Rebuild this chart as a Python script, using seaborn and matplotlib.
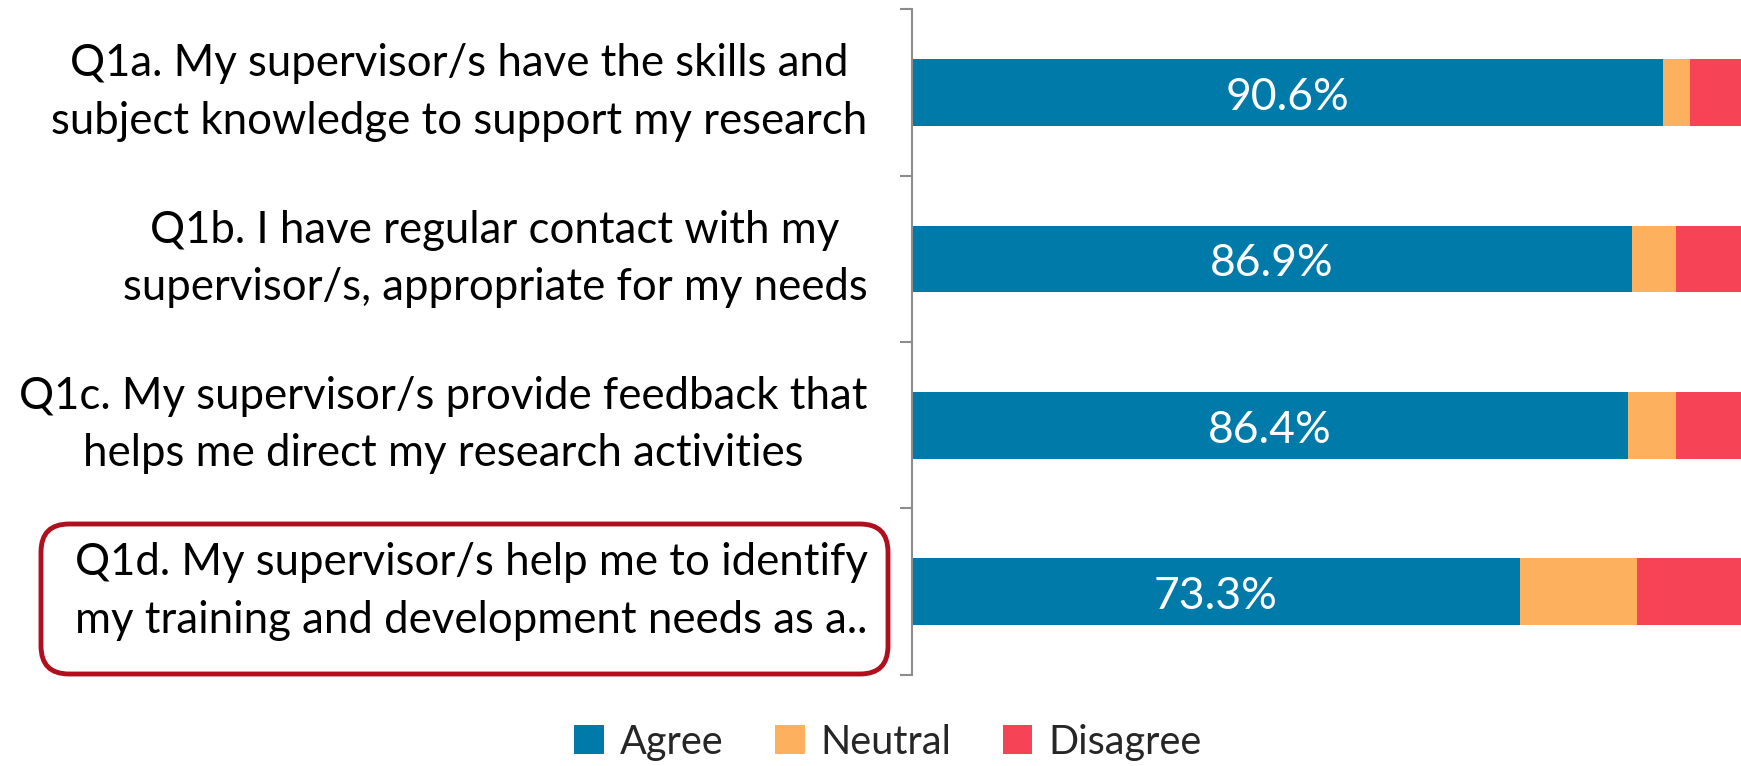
import matplotlib
matplotlib.use("Agg")
import matplotlib.pyplot as plt
from matplotlib.patches import FancyBboxPatch, Patch
from matplotlib.transforms import IdentityTransform
import seaborn as sns
import pandas as pd
import numpy as np

questions = [
    "Q1a. My supervisor/s have the skills and\nsubject knowledge to support my research",
    "Q1b. I have regular contact with my\nsupervisor/s, appropriate for my needs",
    "Q1c. My supervisor/s provide feedback that\nhelps me direct my research activities",
    "Q1d. My supervisor/s help me to identify\nmy training and development needs as a..",
]
agree = [90.6, 86.9, 86.4, 73.3]
neutral = [3.3, 5.2, 5.8, 14.1]
disagree = [6.1, 7.9, 7.8, 12.6]
series_names = ["Agree", "Neutral", "Disagree"]
colors = ["#007AA8", "#FDB05E", "#F64356"]

sns.set_theme(style="white")
plt.rcParams["font.family"] = ["Lato", "DejaVu Sans"]

df = pd.DataFrame({"question": questions, "agree": agree,
                   "neutral": neutral, "disagree": disagree})
df["upto_neutral"] = df["agree"] + df["neutral"]
df["total"] = df["upto_neutral"] + df["disagree"]

fig = plt.figure(figsize=(17.41, 7.66), dpi=100)
ax = fig.add_axes([0.5238, 0.119, 0.4762, 0.869])

# stacked bars: draw cumulative totals back to front
for col, c in zip(["total", "upto_neutral", "agree"], colors[::-1]):
    sns.barplot(data=df, x=col, y="question", orient="h", color=c,
                width=0.4, ax=ax, saturation=1, linewidth=0)

ax.set_xlim(0, 100)
ax.set_ylim(3.5, -0.5)
ax.set_xlabel("")
ax.set_ylabel("")
ax.set_xticks([])

for i, v in enumerate(agree):
    ax.text(v / 2, i + 0.03, f"{v:.1f}%", ha="center", va="center",
            color="white", fontsize=32)

for s in ["top", "right", "bottom"]:
    ax.spines[s].set_visible(False)
ax.spines["left"].set_color("#8C8C8C")
ax.spines["left"].set_linewidth(1.5)

ax.set_yticks(range(len(questions)))
ax.set_yticklabels(questions, fontsize=31.5, color="black")
ax.tick_params(axis="y", which="major", length=0, pad=32)
for t in ax.get_yticklabels():
    t.set_multialignment("center")
    t.set_linespacing(1.5)
    t.set_verticalalignment("center")
ax.set_yticks(np.arange(-0.5, len(questions), 1.0), minor=True)
ax.tick_params(axis="y", which="minor", length=9, width=1.5,
               color="#8C8C8C", left=True)

# highlight frame around the last question
box = FancyBboxPatch((41, 92), 847, 150,
                     boxstyle="round,pad=0,rounding_size=28",
                     transform=IdentityTransform(), fill=False,
                     edgecolor="#B0101E", linewidth=3.5)
fig.patches.append(box)

handles = [Patch(facecolor=c, edgecolor="none") for c in colors]
fig.legend(handles, series_names, loc="center", bbox_to_anchor=(0.51, 0.031),
           ncol=3, frameon=False, fontsize=28.5, handlelength=0.75,
           handleheight=0.75, handletextpad=0.4, columnspacing=1.3)

fig.savefig("out.png", dpi=100)
